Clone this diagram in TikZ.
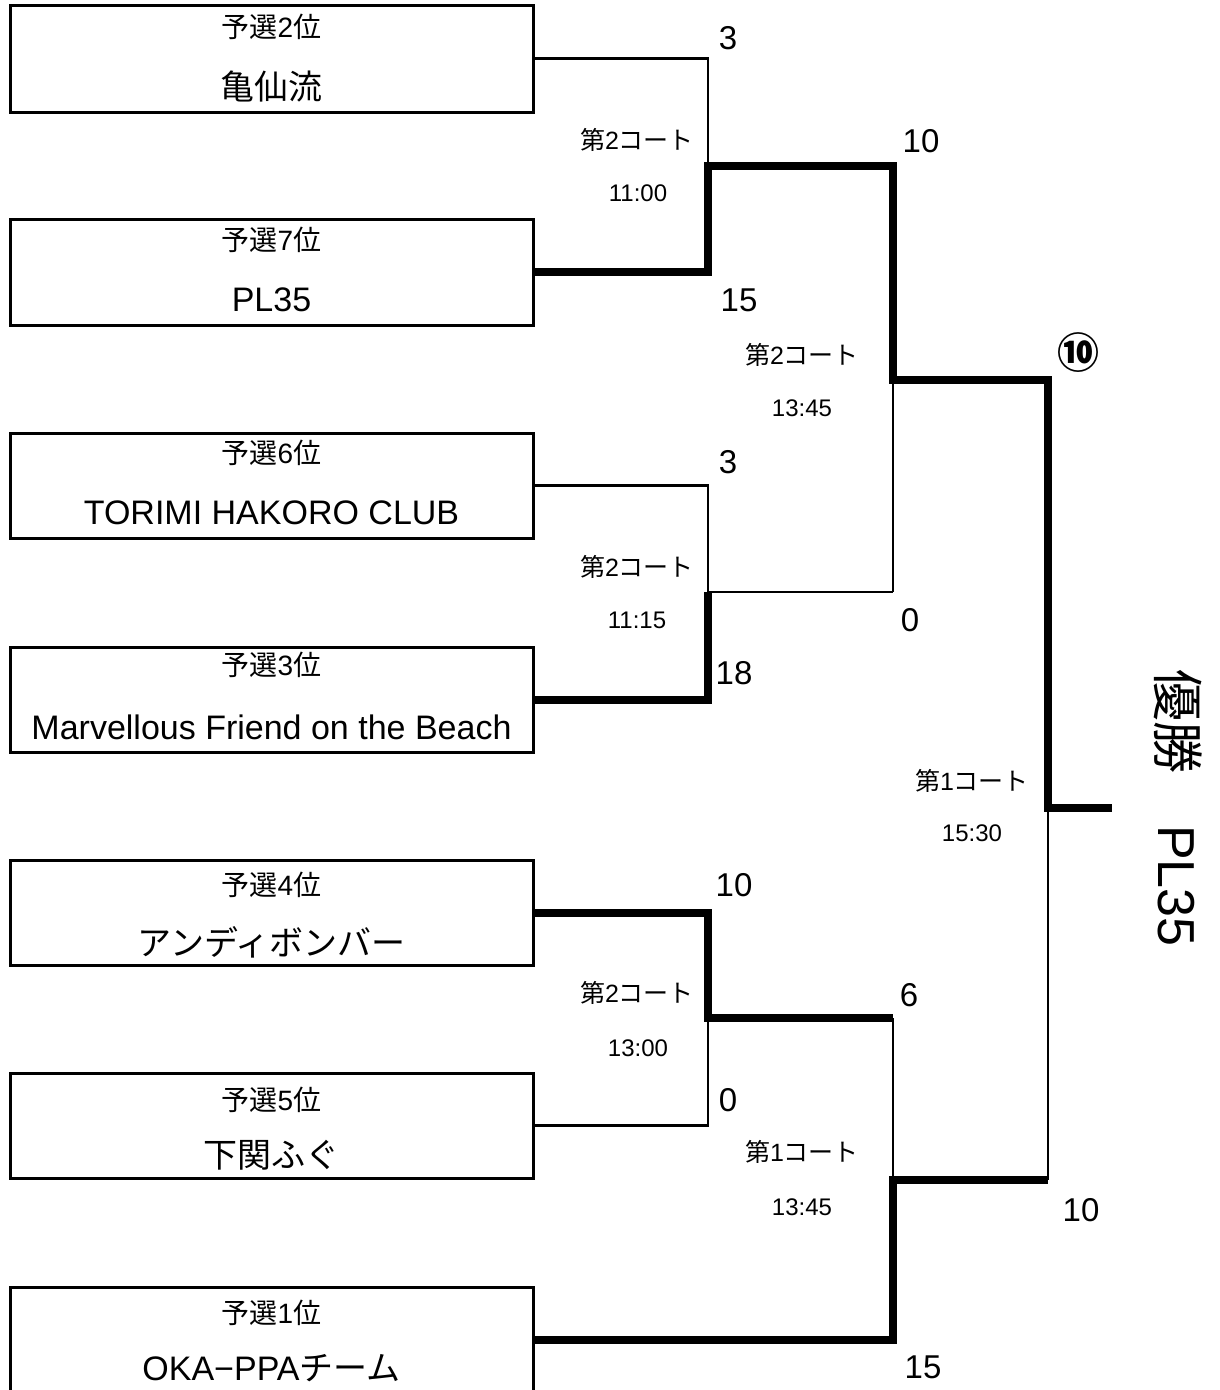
\documentclass[tikz,border=0pt]{standalone}
\usepackage{fontspec}
\setmainfont{Liberation Sans}
\newfontfamily\jp{Noto Sans CJK JP}
\begin{document}
\begin{tikzpicture}[x=1pt,y=-1pt,
  teambox/.style={draw, line width=3pt, minimum width=523pt, inner sep=0pt, outer sep=0pt},
  lbl/.style={font=\fontsize{28}{34}\selectfont, inner sep=0pt},
  tname/.style={font=\fontsize{34}{40}\selectfont, inner sep=0pt},
  score/.style={font=\fontsize{33}{40}\selectfont, inner sep=0pt},
  court/.style={font=\fontsize{25}{30}\selectfont, inner sep=0pt},
  ttime/.style={font=\fontsize{24}{30}\selectfont, inner sep=0pt},
  thinline/.style={line width=2.5pt, line join=miter},
  thickline/.style={line width=8pt, line join=miter}]
\fill[white] (0,0) rectangle (1219,1390);
\useasboundingbox (0,0) rectangle (1219,1390);

% team boxes
\node[teambox, minimum height=107pt] (b1) at (271.5,58.5) {};
\node[teambox, minimum height=106pt] (b2) at (271.5,272) {};
\node[teambox, minimum height=105pt] (b3) at (271.5,485.5) {};
\node[teambox, minimum height=105pt] (b4) at (271.5,699.5) {};
\node[teambox, minimum height=105pt] (b5) at (271.5,912.5) {};
\node[teambox, minimum height=105pt] (b6) at (271.5,1125.5) {};
\node[teambox, minimum height=106pt] (b7) at (271.5,1340) {};

% box texts
\node[lbl] (b1t) at (271.5,27) {{\jp 予選}2{\jp 位}};
\node[tname] (b1n) at (271.5,87) {\jp 亀仙流};
\node[lbl] (b2t) at (271.5,240) {{\jp 予選}7{\jp 位}};
\node[tname] (b2n) at (271.5,300) {PL35};
\node[lbl] (b3t) at (271.5,453) {{\jp 予選}6{\jp 位}};
\node[tname] (b3n) at (271.5,513) {TORIMI HAKORO CLUB};
\node[lbl] (b4t) at (271.5,665) {{\jp 予選}3{\jp 位}};
\node[tname] (b4n) at (271.5,727) {Marvellous Friend on the Beach};
\node[lbl] (b5t) at (271.5,885) {{\jp 予選}4{\jp 位}};
\node[tname] (b5n) at (271.5,942) {\jp アンディボンバー};
\node[lbl] (b6t) at (271.5,1100) {{\jp 予選}5{\jp 位}};
\node[tname] (b6n) at (271.5,1155) {\jp 下関ふぐ};
\node[lbl] (b7t) at (271.5,1313) {{\jp 予選}1{\jp 位}};
\node[tname] (b7n) at (271.5,1368) {OKA−PPA{\jp チーム}};

% junction coordinates
\coordinate (jA) at (708,166);
\coordinate (wA) at (893,166);
\coordinate (jB) at (708,592);
\coordinate (wB) at (893,592);
\coordinate (jC) at (893,380);
\coordinate (wC) at (1048,380);
\coordinate (jD) at (708,1018);
\coordinate (wD) at (893,1018);
\coordinate (jE) at (893,1180);
\coordinate (wE) at (1048,1180);
\coordinate (jF) at (1048,808);
\coordinate (win) at (1112,808);

% losing (thin) lines
\draw[thinline] (b1.east) -| (jA);
\draw[thinline] (b3.east) -| (jB) -- (wB);
\draw[thinline] (wB) -- (jC);
\draw[thinline] (b6.east) -| (jD);
\draw[thinline] (wD) -- (jE);
\draw[thinline] (wE) -- (jF);

% winning (thick) lines
\draw[thickline] (b2.east) -| (jA) -- (wA) -- (jC) -- (wC) -- (jF) -- (win);
\draw[thickline] (b4.east) -| (jB);
\draw[thickline] (b5.east) -| (jD) -- (wD);
\draw[thickline] (b7.east) -| (jE) -- (wE);

% scores
\node[score] (s1) at (728,38) {3};
\node[score] (s2) at (739,300) {15};
\node[score] (s3) at (921,141) {10};
\node[score] (s4) at (728,462) {3};
\node[score] (s5) at (734,673) {18};
\node[score] (s6) at (910,620) {0};
\node[score, font=\fontsize{42}{48}\selectfont\jp\bfseries] (s7) at (1078,353) {⑩};
\node[score] (s8) at (734,885) {10};
\node[score] (s9) at (728,1100) {0};
\node[score] (s10) at (909,995) {6};
\node[score] (s11) at (923,1367) {15};
\node[score] (s12) at (1081,1210) {10};

% courts and times
\node[court] (c1) at (637,140) {{\jp 第}2{\jp コート}};
\node[ttime] (t1) at (638,193) {11:00};
\node[court] (c2) at (802,355) {{\jp 第}2{\jp コート}};
\node[ttime] (t2) at (802,408) {13:45};
\node[court] (c3) at (637,567) {{\jp 第}2{\jp コート}};
\node[ttime] (t3) at (637,620) {11:15};
\node[court] (c4) at (972,781) {{\jp 第}1{\jp コート}};
\node[ttime] (t4) at (972,833) {15:30};
\node[court] (c5) at (637,993) {{\jp 第}2{\jp コート}};
\node[ttime] (t5) at (638,1048) {13:00};
\node[court] (c6) at (802,1152) {{\jp 第}1{\jp コート}};
\node[ttime] (t6) at (802,1207) {13:45};

% champion
\node[inner sep=0pt, rotate=-90, font=\fontsize{52}{60}\selectfont] (champ) at (1178,808) {{\jp 優勝　}PL35};
\end{tikzpicture}
\end{document}
